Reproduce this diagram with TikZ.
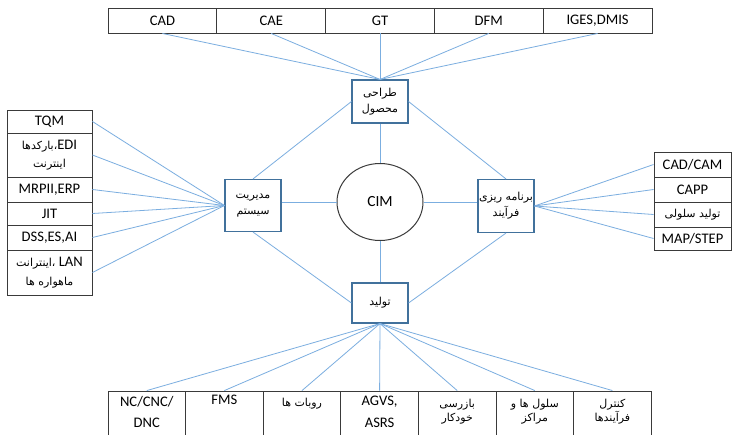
\documentclass[tikz,border=0pt]{standalone}
\usepackage{fontspec}
\usetikzlibrary{shapes.geometric}
\setmainfont{Carlito}
\newfontfamily\fa[Script=Arabic]{DejaVu Sans}
\TeXXeTstate=1
\newcommand{\rl}[1]{\beginR #1\endR}
\newcommand{\pfont}{\fa\fontsize{11}{14}\selectfont}
\definecolor{connc}{HTML}{7BAEE0}
\definecolor{hubc}{HTML}{41719C}
\definecolor{cellc}{HTML}{3A3A3A}
\begin{document}
\begin{tikzpicture}[x=1pt,y=-1pt,
  cell/.style={draw=cellc, line width=0.9pt, inner sep=0pt, align=center, font=\fontsize{14.6}{18}\selectfont},
  pcell/.style={cell, font=\pfont},
  btext/.style={inner sep=0pt, anchor=north, align=center, font=\fontsize{14.6}{21.5}\selectfont},
  pbtext/.style={inner sep=0pt, anchor=north, align=center, font=\fa\fontsize{11}{14}\selectfont},
  hub/.style={draw=hubc, line width=1.1pt, fill=white, minimum width=56pt, inner sep=0pt, align=center, font=\fa\fontsize{11}{16}\selectfont},
  conn/.style={draw=connc, line width=0.8pt}]
\clip (0,0) rectangle (734,434);
\fill[white] (0,0) rectangle (734,434);
% top row
\foreach \n/\x/\t in {t1/162.4/CAD, t2/271.2/CAE, t3/380/GT, t4/488.8/DFM, t5/597.6/{IGES,DMIS}}
  \node[cell, minimum width=108.8pt, minimum height=25pt] (\n) at (\x,20.5) {\t};
% left column
\node[cell, minimum width=85pt, minimum height=23pt] (l1) at (49.5,121.5) {TQM};
\node[cell, minimum width=85pt, minimum height=44pt, font=\fontsize{14.6}{18}\selectfont] (l2) at (49.5,155) {{\pfont\rl{بارکدها}،}EDI\\{\pfont\rl{اینترنت}}};
\node[cell, minimum width=85pt, minimum height=25pt] (l3) at (49.5,189.5) {MRPII,ERP};
\node[cell, minimum width=85pt, minimum height=23pt] (l4) at (49.5,213.5) {JIT};
\node[cell, minimum width=85pt, minimum height=25pt] (l5) at (49.5,237.5) {DSS,ES,AI};
\node[cell, minimum width=85pt, minimum height=45pt, font=\fontsize{14.6}{19}\selectfont] (l6) at (49.5,272.5) {{\pfont\rl{اینترانت}،} LAN\\{\pfont\rl{ماهواره ها}}};
% right column
\node[cell, minimum width=77pt, minimum height=25pt] (r1) at (692.5,164.5) {CAD/CAM};
\node[cell, minimum width=77pt, minimum height=25pt] (r2) at (692.5,189.5) {CAPP};
\node[pcell, minimum width=77pt, minimum height=25pt] (r3) at (692.5,214.5) {\rl{تولید سلولی}};
\node[cell, minimum width=77pt, minimum height=23pt] (r4) at (692.5,238.5) {MAP/STEP};
% bottom row
\foreach \n/\x in {b1/146.8, b2/224.4, b3/302, b4/379.6, b5/457.2, b6/534.8, b7/612.4}
  \node[cell, minimum width=77.6pt, minimum height=60pt] (\n) at (\x,421) {};
\node[btext] (b1t) at (146.8,396) {NC/CNC/\\DNC};
\node[btext] (b2t) at (224.4,395) {FMS};
\node[pbtext] (b3t) at (302,398) {\rl{روبات ها}};
\node[btext] (b4t) at (379.6,396) {AGVS,\\ASRS};
\node[pbtext] (b5t) at (457.2,399) {\rl{بازرسی}\\\rl{خودکار}};
\node[pbtext] (b6t) at (534.8,399) {\rl{سلول ها و}\\\rl{مراکز}};
\node[pbtext] (b7t) at (612.4,399) {\rl{کنترل}\\\rl{فرآیندها}};
% hubs
\node[hub, minimum height=43pt] (des) at (380,101.5) {\rl{طراحی}\\\rl{محصول}};
\node[hub, minimum height=52pt] (mgmt) at (253,205.5) {\rl{مدیریت}\\\rl{سیستم}};
\node[hub, minimum height=53pt] (plan) at (506,206) {\rl{برنامه ریزی}\\\rl{فرآیند}};
\node[hub, minimum height=40pt] (prod) at (380,303) {\rl{تولید}};
\node[draw=cellc, line width=1pt, ellipse, minimum width=86pt, minimum height=77pt, inner sep=0pt, font=\fontsize{15.5}{18}\selectfont] (cim) at (380,202) {CIM};
% connectors
\foreach \n in {t1,t2,t3,t4,t5} \draw[conn] (\n.south) -- (des.north);
\foreach \n in {l1,l2,l3,l4,l5,l6} \draw[conn] (\n.east) -- (mgmt.west);
\foreach \n in {r1,r2,r3,r4} \draw[conn] (\n.west) -- (plan.east);
\foreach \n in {b1,b2,b3,b4,b5,b6,b7} \draw[conn] (\n.north) -- (prod.south);
\draw[conn] (des.west) -- (mgmt.north);
\draw[conn] (des.east) -- (plan.north);
\draw[conn] (mgmt.south) -- (prod.west);
\draw[conn] (plan.south) -- (prod.east);
\draw[conn] (des.south) -- (cim.north);
\draw[conn] (cim.south) -- (prod.north);
\draw[conn] (cim.west -| mgmt.east) -- (cim.west);
\draw[conn] (cim.east) -- (cim.east -| plan.west);
\end{tikzpicture}
\end{document}
